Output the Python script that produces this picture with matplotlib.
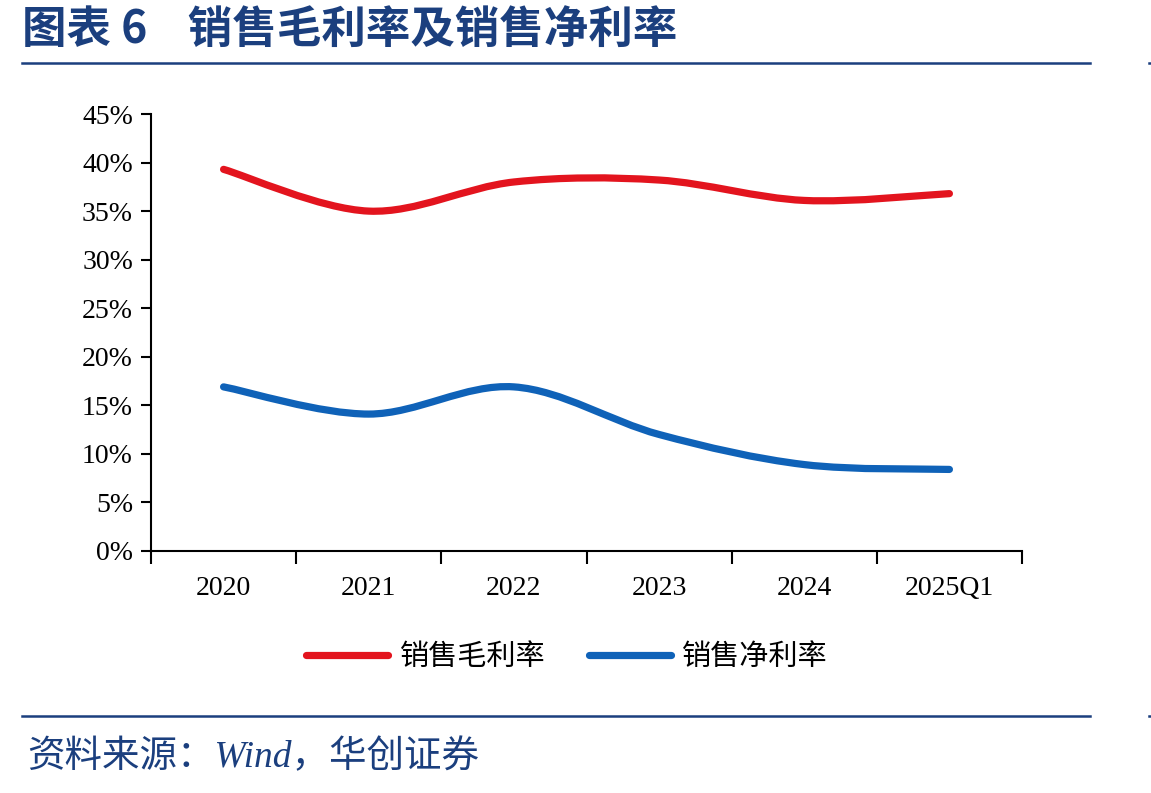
import matplotlib.pyplot as plt
from matplotlib.path import Path
from matplotlib.patches import PathPatch
from matplotlib.lines import Line2D

plt.rcParams['font.family'] = ['Noto Sans CJK SC', 'DejaVu Sans']

# 数据
categories = ['2020', '2021', '2022', '2023', '2024', '2025Q1']
gross_margin = [39.3, 35.0, 38.0, 38.2, 36.1, 36.8]
net_margin = [16.9, 14.1, 16.9, 12.0, 8.9, 8.4]
series_names = ['销售毛利率', '销售净利率']
colors = ['#E3141E', '#0F62B8']

navy = '#1B3F7E'


def smooth_path(xs, ys):
    # Excel风格的平滑线 (Catmull-Rom -> Bezier)
    pts = list(zip(xs, ys))
    n = len(pts)
    verts = [pts[0]]
    codes = [Path.MOVETO]
    for i in range(n - 1):
        p0 = pts[i - 1] if i > 0 else pts[i]
        p1 = pts[i]
        p2 = pts[i + 1]
        p3 = pts[i + 2] if i + 2 < n else pts[i + 1]
        c1 = (p1[0] + (p2[0] - p0[0]) / 6, p1[1] + (p2[1] - p0[1]) / 6)
        c2 = (p2[0] - (p3[0] - p1[0]) / 6, p2[1] - (p3[1] - p1[1]) / 6)
        verts += [c1, c2, p2]
        codes += [Path.CURVE4] * 3
    return Path(verts, codes)


fig = plt.figure(figsize=(11.51, 7.93), dpi=100)
ax = fig.add_axes([151 / 1151, 242 / 793, 871 / 1151, 437 / 793])

x = list(range(len(categories)))
for vals, c in zip([gross_margin, net_margin], colors):
    ax.add_patch(PathPatch(smooth_path(x, vals), facecolor='none', edgecolor=c,
                           lw=5.2, capstyle='round', joinstyle='round'))

ax.set_xlim(-0.5, len(categories) - 0.5)
ax.set_ylim(0, 45)
ax.set_yticks(range(0, 46, 5))
ax.set_yticklabels([f'{v}%' for v in range(0, 46, 5)], family='Liberation Serif', fontsize=20)
ax.set_xticks(x)
ax.set_xticklabels(categories, family='Liberation Serif', fontsize=20)
ax.set_xticks([i - 0.5 for i in range(len(categories) + 1)], minor=True)
ax.tick_params(axis='x', which='major', length=0, pad=18)
ax.tick_params(axis='x', which='minor', length=9, width=1.5, direction='out')
ax.tick_params(axis='y', length=7, width=1.5, direction='out', pad=6)
for s in ['top', 'right']:
    ax.spines[s].set_visible(False)
for s in ['left', 'bottom']:
    ax.spines[s].set_linewidth(1.5)

handles = [Line2D([], [], color=c, lw=5.2, solid_capstyle='round') for c in colors]
fig.legend(handles, series_names, loc='center', bbox_to_anchor=(567 / 1151, 1 - 657 / 793),
           ncol=2, frameon=False, fontsize=21, handlelength=2.8, handletextpad=0.4,
           columnspacing=1.5)

# 标题与来源
fig.text(22 / 1151, 1 - 30 / 793, '图表 6    销售毛利率及销售净利率', fontsize=32,
         fontweight='bold', color=navy, va='center', ha='left')
for yy in [63, 716]:
    fig.add_artist(Line2D([22 / 1151, 1090 / 1151], [1 - yy / 793] * 2, color=navy, lw=1.8))
    fig.add_artist(Line2D([1149 / 1151, 1151 / 1151], [1 - yy / 793] * 2, color=navy, lw=1.8))
fig.text(27 / 1151, 1 - 757 / 793, '资料来源：Wind，华创证券', fontsize=27, style='italic',
         family=['Liberation Serif', 'Noto Sans CJK SC'], color=navy, va='center', ha='left')

fig.savefig('out.png', dpi=100)
